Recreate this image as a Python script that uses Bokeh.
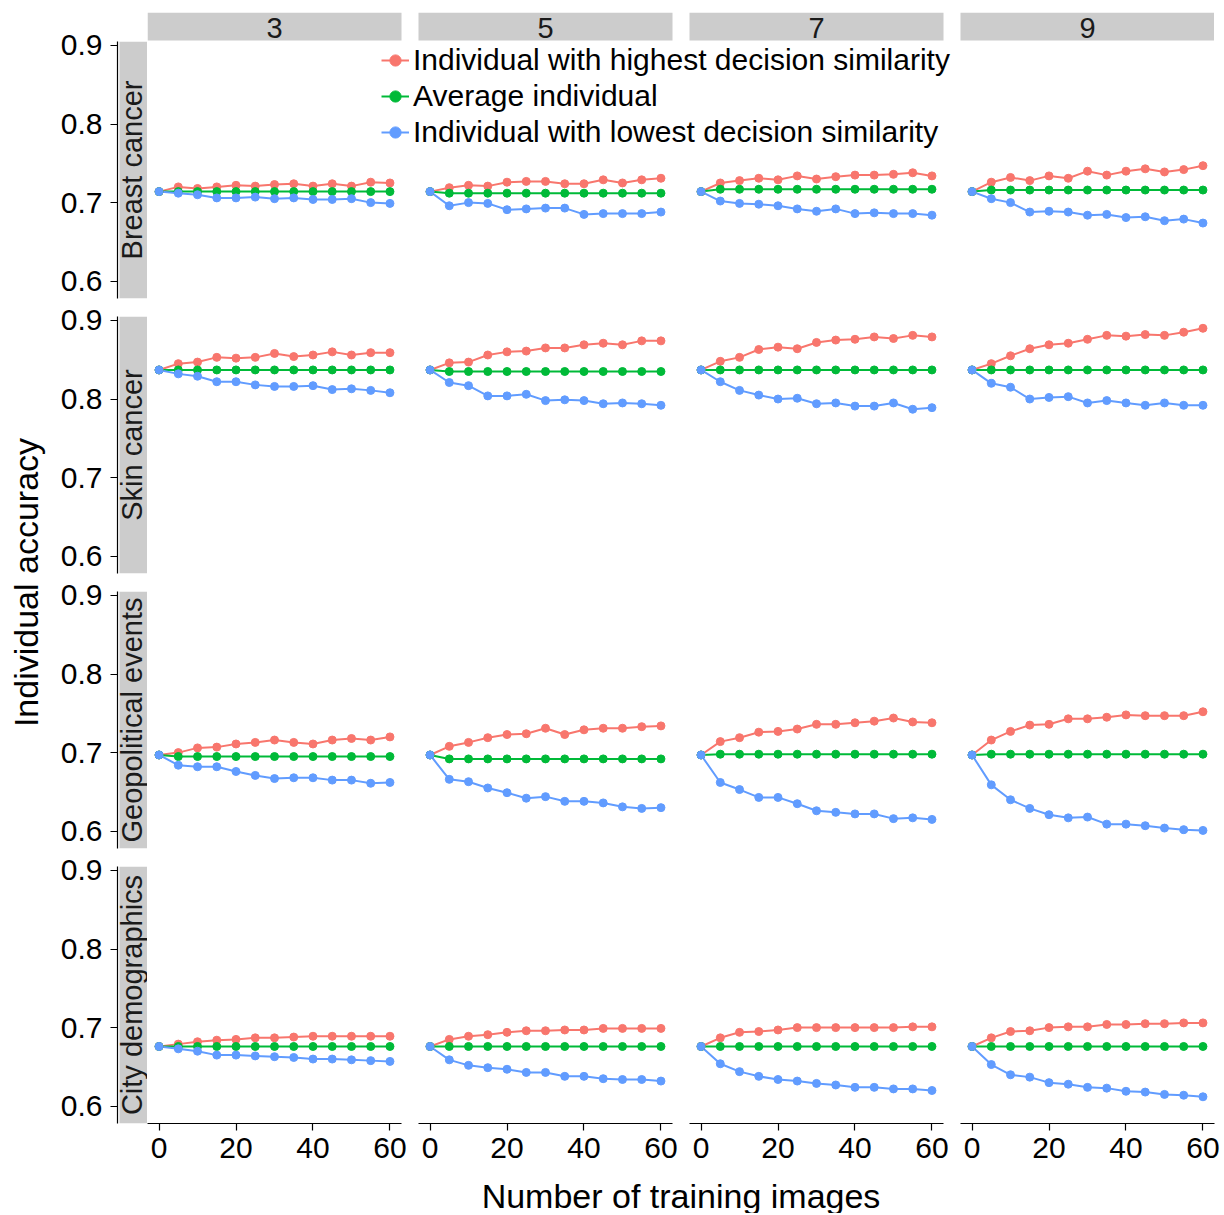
import numpy as np
from bokeh.plotting import figure
from bokeh.models import (Range1d, FixedTicker, Legend, LegendItem, ColumnDataSource,
                          Spacer, PrintfTickFormatter, Label)
from bokeh.layouts import row, column
from bokeh.embed import file_html
from bokeh.resources import INLINE
from bokeh.core.properties import value

# ---------------- data ----------------
training_images = [0, 5, 10, 15, 20, 25, 30, 35, 40, 45, 50, 55, 60]
group_sizes = ["3", "5", "7", "9"]
domains = ["Breast cancer", "Skin cancer", "Geopolitical events", "City demographics"]
series_names = ["Individual with highest decision similarity",
                "Average individual",
                "Individual with lowest decision similarity"]

breast_highest = [
    [0.714, 0.720, 0.718, 0.720, 0.722, 0.721, 0.723, 0.724, 0.721, 0.724, 0.721, 0.726, 0.725],
    [0.714, 0.719, 0.722, 0.721, 0.726, 0.727, 0.727, 0.724, 0.724, 0.729, 0.725, 0.729, 0.731],
    [0.714, 0.725, 0.728, 0.731, 0.729, 0.734, 0.730, 0.733, 0.735, 0.735, 0.736, 0.738, 0.734],
    [0.714, 0.726, 0.732, 0.728, 0.734, 0.731, 0.740, 0.735, 0.740, 0.743, 0.739, 0.742, 0.747],
]
breast_average = [
    [0.714, 0.714, 0.714, 0.714, 0.714, 0.714, 0.714, 0.714, 0.714, 0.714, 0.714, 0.714, 0.714],
    [0.714, 0.712, 0.712, 0.712, 0.712, 0.712, 0.712, 0.712, 0.712, 0.712, 0.712, 0.712, 0.712],
    [0.714, 0.717, 0.717, 0.717, 0.717, 0.717, 0.717, 0.717, 0.717, 0.717, 0.717, 0.717, 0.717],
    [0.714, 0.716, 0.716, 0.716, 0.716, 0.716, 0.716, 0.716, 0.716, 0.716, 0.716, 0.716, 0.716],
]
breast_lowest = [
    [0.714, 0.712, 0.710, 0.706, 0.706, 0.707, 0.705, 0.706, 0.704, 0.704, 0.705, 0.700, 0.699],
    [0.714, 0.696, 0.700, 0.699, 0.691, 0.692, 0.693, 0.693, 0.685, 0.686, 0.686, 0.686, 0.688],
    [0.714, 0.702, 0.699, 0.698, 0.696, 0.692, 0.689, 0.692, 0.686, 0.687, 0.686, 0.686, 0.684],
    [0.714, 0.705, 0.700, 0.688, 0.689, 0.688, 0.684, 0.685, 0.681, 0.682, 0.677, 0.679, 0.674],
]

skin_highest = [
    [0.837, 0.845, 0.847, 0.853, 0.852, 0.853, 0.858, 0.854, 0.856, 0.860, 0.856, 0.859, 0.859],
    [0.837, 0.846, 0.847, 0.856, 0.860, 0.861, 0.865, 0.865, 0.869, 0.871, 0.869, 0.874, 0.874],
    [0.837, 0.848, 0.853, 0.863, 0.866, 0.864, 0.872, 0.875, 0.876, 0.879, 0.877, 0.881, 0.879],
    [0.837, 0.845, 0.855, 0.864, 0.869, 0.871, 0.876, 0.881, 0.880, 0.882, 0.881, 0.885, 0.890],
]
skin_average = [
    [0.837, 0.837, 0.837, 0.837, 0.837, 0.837, 0.837, 0.837, 0.837, 0.837, 0.837, 0.837, 0.837],
    [0.837, 0.835, 0.835, 0.835, 0.835, 0.835, 0.835, 0.835, 0.835, 0.835, 0.835, 0.835, 0.835],
    [0.837, 0.837, 0.837, 0.837, 0.837, 0.837, 0.837, 0.837, 0.837, 0.837, 0.837, 0.837, 0.837],
    [0.837, 0.837, 0.837, 0.837, 0.837, 0.837, 0.837, 0.837, 0.837, 0.837, 0.837, 0.837, 0.837],
]
skin_lowest = [
    [0.837, 0.832, 0.829, 0.822, 0.822, 0.818, 0.816, 0.816, 0.817, 0.812, 0.813, 0.811, 0.808],
    [0.837, 0.821, 0.817, 0.804, 0.804, 0.806, 0.798, 0.799, 0.798, 0.794, 0.795, 0.794, 0.792],
    [0.837, 0.822, 0.811, 0.805, 0.800, 0.801, 0.794, 0.795, 0.791, 0.791, 0.795, 0.787, 0.789],
    [0.837, 0.820, 0.815, 0.800, 0.802, 0.803, 0.795, 0.798, 0.795, 0.792, 0.795, 0.792, 0.792],
]

geo_highest = [
    [0.697, 0.700, 0.706, 0.707, 0.711, 0.713, 0.716, 0.713, 0.711, 0.716, 0.718, 0.716, 0.720],
    [0.697, 0.708, 0.713, 0.719, 0.723, 0.724, 0.731, 0.723, 0.729, 0.731, 0.731, 0.733, 0.734],
    [0.697, 0.714, 0.719, 0.726, 0.727, 0.730, 0.736, 0.736, 0.738, 0.740, 0.744, 0.739, 0.738],
    [0.697, 0.716, 0.727, 0.735, 0.736, 0.743, 0.743, 0.745, 0.748, 0.747, 0.747, 0.747, 0.752],
]
geo_average = [
    [0.697, 0.695, 0.695, 0.695, 0.695, 0.695, 0.695, 0.695, 0.695, 0.695, 0.695, 0.695, 0.695],
    [0.697, 0.692, 0.692, 0.692, 0.692, 0.692, 0.692, 0.692, 0.692, 0.692, 0.692, 0.692, 0.692],
    [0.697, 0.698, 0.698, 0.698, 0.698, 0.698, 0.698, 0.698, 0.698, 0.698, 0.698, 0.698, 0.698],
    [0.697, 0.698, 0.698, 0.698, 0.698, 0.698, 0.698, 0.698, 0.698, 0.698, 0.698, 0.698, 0.698],
]
geo_lowest = [
    [0.697, 0.684, 0.682, 0.682, 0.676, 0.671, 0.667, 0.668, 0.668, 0.665, 0.665, 0.661, 0.662],
    [0.697, 0.666, 0.663, 0.655, 0.649, 0.642, 0.644, 0.638, 0.638, 0.636, 0.631, 0.629, 0.630],
    [0.697, 0.662, 0.653, 0.643, 0.643, 0.635, 0.626, 0.624, 0.622, 0.622, 0.616, 0.617, 0.615],
    [0.697, 0.659, 0.640, 0.629, 0.621, 0.617, 0.618, 0.609, 0.609, 0.607, 0.604, 0.602, 0.601],
]

city_highest = [
    [0.676, 0.679, 0.682, 0.684, 0.685, 0.687, 0.687, 0.688, 0.689, 0.689, 0.689, 0.689, 0.689],
    [0.676, 0.685, 0.689, 0.691, 0.694, 0.696, 0.696, 0.697, 0.697, 0.699, 0.699, 0.699, 0.699],
    [0.676, 0.687, 0.694, 0.695, 0.697, 0.700, 0.700, 0.700, 0.700, 0.700, 0.700, 0.701, 0.701],
    [0.676, 0.687, 0.695, 0.696, 0.700, 0.701, 0.701, 0.704, 0.704, 0.705, 0.705, 0.706, 0.706],
]
city_average = [
    [0.676, 0.676, 0.676, 0.676, 0.676, 0.676, 0.676, 0.676, 0.676, 0.676, 0.676, 0.676, 0.676],
    [0.676, 0.676, 0.676, 0.676, 0.676, 0.676, 0.676, 0.676, 0.676, 0.676, 0.676, 0.676, 0.676],
    [0.676, 0.676, 0.676, 0.676, 0.676, 0.676, 0.676, 0.676, 0.676, 0.676, 0.676, 0.676, 0.676],
    [0.676, 0.676, 0.676, 0.676, 0.676, 0.676, 0.676, 0.676, 0.676, 0.676, 0.676, 0.676, 0.676],
]
city_lowest = [
    [0.676, 0.673, 0.670, 0.665, 0.665, 0.664, 0.663, 0.662, 0.660, 0.660, 0.659, 0.658, 0.657],
    [0.676, 0.659, 0.652, 0.649, 0.647, 0.643, 0.643, 0.638, 0.638, 0.635, 0.634, 0.634, 0.632],
    [0.676, 0.654, 0.644, 0.638, 0.634, 0.632, 0.629, 0.627, 0.624, 0.624, 0.622, 0.622, 0.620],
    [0.676, 0.653, 0.640, 0.637, 0.630, 0.628, 0.624, 0.623, 0.619, 0.618, 0.615, 0.614, 0.612],
]

y_ticks = [0.6, 0.7, 0.8, 0.9]
x_ticks = [0, 20, 40, 60]
x_title = "Number of training images"
y_title = "Individual accuracy"

domain_data = [
    (breast_highest, breast_average, breast_lowest),
    (skin_highest, skin_average, skin_lowest),
    (geo_highest, geo_average, geo_lowest),
    (city_highest, city_average, city_lowest),
]

# ---------------- style / layout constants ----------------
FONT = "Liberation Sans"
COLORS = ["#F8766D", "#00BA38", "#619CFF"]
STRIP_FILL = "#CCCCCC"
STRIP_TEXT = "#1A1A1A"
TEXT_COL = "#000000"
Y0, Y1 = 0.578, 0.905
X0, X1 = -3, 63
PANEL_W, PANEL_H = 254, 257
GAP_X = 17
ROW_TOP = 17
ROW_BOT = 1
TOTAL_W = 4 * PANEL_W + 3 * GAP_X
STRIP_W = 30
STRIP_GAP = 2
AXIS_W = 63
YT_W = 54
TOP_PAD, TOP_H = 12, 28
XAX_H = 50
XT_H = 40
LEFT_H = (TOP_PAD + TOP_H + 1 + PANEL_H + ROW_BOT) + 2 * (ROW_TOP + PANEL_H + ROW_BOT) + (ROW_TOP + PANEL_H + XAX_H)
TOTAL_H = LEFT_H + XT_H


def base_fig(**kw):
    opts = dict(output_backend="svg", toolbar_location=None,
                min_border_left=0, min_border_right=0, min_border_top=0, min_border_bottom=0,
                outline_line_color=None, background_fill_color="white", border_fill_color="white")
    opts.update(kw)
    p = figure(**opts)
    p.grid.visible = False
    return p


def style_axis(ax):
    ax.axis_line_color = "black"
    ax.axis_line_width = 1.2
    ax.major_tick_line_color = "black"
    ax.major_tick_line_width = 1.2
    ax.major_tick_out = 7
    ax.major_tick_in = 0
    ax.minor_tick_line_color = None
    ax.major_label_text_font = FONT
    ax.major_label_text_font_size = "30px"
    ax.major_label_text_color = TEXT_COL


def add_series(p, i, j, xr=None):
    kw = {} if xr is None else {"x_range_name": xr}
    sources = [ColumnDataSource(dict(x=training_images, y=arr[j])) for arr in domain_data[i]]
    lines = [p.line("x", "y", source=s, line_color=c, line_width=2, **kw)
             for s, c in zip(sources, COLORS)]
    dots = [p.scatter("x", "y", source=s, size=8, fill_color=c, line_color=c, **kw)
            for s, c in zip(sources, COLORS)]
    return lines, dots


def wide_row(i):
    per_y = (Y1 - Y0) / PANEL_H
    extra_h = (TOP_H + 1) if i == 0 else 0
    fh = PANEL_H + extra_h
    p = base_fig(frame_width=TOTAL_W, frame_height=fh,
                 x_range=Range1d(0, TOTAL_W), y_range=Range1d(Y0, Y1 + extra_h * per_y),
                 x_axis_location=None, y_axis_location=None,
                 min_border_top=TOP_PAD if i == 0 else ROW_TOP, min_border_bottom=ROW_BOT)
    per_px = (X1 - X0) / PANEL_W
    first = None
    for j in range(4):
        off = j * (PANEL_W + GAP_X)
        start = X0 - off * per_px
        name = f"c{j}"
        p.extra_x_ranges[name] = Range1d(start, start + TOTAL_W * per_px)
        res = add_series(p, i, j, name)
        if first is None:
            first = res
    if i == 0:
        # facet strips (group sizes) above the first row
        p.extra_x_ranges["px"] = Range1d(0, TOTAL_W)
        p.extra_y_ranges["px"] = Range1d(0, fh)
        lefts = [j * (PANEL_W + GAP_X) for j in range(4)]
        p.quad(left=lefts, right=[l + PANEL_W for l in lefts],
               bottom=[PANEL_H + 1] * 4, top=[fh] * 4,
               x_range_name="px", y_range_name="px",
               fill_color=STRIP_FILL, line_color=None)
        for j, l in enumerate(lefts):
            p.add_layout(Label(x=l + PANEL_W / 2, y=fh - 15, x_range_name="px", y_range_name="px",
                               text=group_sizes[j], text_align="center", text_baseline="middle",
                               text_font=FONT, text_font_size="29px", text_color=STRIP_TEXT))
        lines, dots = first
        items = [LegendItem(label=series_names[k], renderers=[lines[k], dots[k]]) for k in range(3)]
        leg = Legend(items=items, location=(234, 148),
                     label_text_font=FONT, label_text_font_size="30px", label_text_color=TEXT_COL,
                     label_height=36, glyph_height=36, glyph_width=28, label_standoff=4,
                     spacing=0, padding=0, margin=0,
                     border_line_color=None, background_fill_alpha=0)
        p.add_layout(leg)
    return p


def bottom_panel(j):
    p = base_fig(frame_width=PANEL_W, frame_height=PANEL_H,
                 x_range=Range1d(X0, X1), y_range=Range1d(Y0, Y1),
                 x_axis_location="below", y_axis_location=None,
                 min_border_top=ROW_TOP,
                 min_border_right=GAP_X if j < 3 else 8, min_border_bottom=XAX_H)
    p.xaxis.ticker = FixedTicker(ticks=x_ticks)
    p.xaxis.major_label_standoff = 7
    style_axis(p.xaxis[0])
    add_series(p, 3, j)
    return p


def left_strip(i):
    top = (TOP_PAD + TOP_H + 1) if i == 0 else ROW_TOP
    bottom = ROW_BOT if i < 3 else XAX_H
    p = base_fig(frame_width=STRIP_W, frame_height=PANEL_H,
                 x_range=Range1d(0, STRIP_W), y_range=Range1d(Y0, Y1),
                 x_axis_location=None, y_axis_location="left",
                 min_border_left=AXIS_W, min_border_top=top, min_border_bottom=bottom)
    p.yaxis.ticker = FixedTicker(ticks=y_ticks)
    p.yaxis.formatter = PrintfTickFormatter(format="%.1f")
    p.yaxis.major_label_standoff = 8
    style_axis(p.yaxis[0])
    p.extra_y_ranges["u"] = Range1d(0, 1)
    p.quad(left=[STRIP_GAP], right=[STRIP_W], bottom=[0], top=[1], y_range_name="u",
           fill_color=STRIP_FILL, line_color=None)
    p.add_layout(Label(x=14.5, y=0.5, y_range_name="u", text=domains[i], angle=np.pi / 2,
                       text_align="center", text_baseline="middle",
                       text_font=FONT, text_font_size="29px", text_color=STRIP_TEXT))
    return p


# y title
yt = base_fig(frame_width=YT_W, frame_height=TOTAL_H,
              x_range=Range1d(0, YT_W), y_range=Range1d(0, TOTAL_H),
              x_axis_location=None, y_axis_location=None)
yt.text(x=[25], y=[TOTAL_H - 582], text=[y_title], angle=np.pi / 2,
        text_align="center", text_baseline="middle",
        text_font=value(FONT), text_font_size="34px", text_color=TEXT_COL)

# x title
xt = base_fig(frame_width=TOTAL_W, frame_height=XT_H,
              x_range=Range1d(0, 1), y_range=Range1d(0, XT_H),
              x_axis_location=None, y_axis_location=None)
xt.text(x=[0.5], y=[18], text=[x_title], text_align="center", text_baseline="middle",
        text_font=value(FONT), text_font_size="34px", text_color=TEXT_COL)

left_col = column([left_strip(i) for i in range(4)])
right_col = column([wide_row(0), wide_row(1), wide_row(2),
                    row([bottom_panel(j) for j in range(4)])])
grid = row([left_col, right_col])
xt_row = row([Spacer(width=AXIS_W + STRIP_W, height=XT_H), xt])

layout = row([yt, column([grid, xt_row])])

open("out.html", "w").write(file_html(layout, INLINE, title="Individual accuracy"))
